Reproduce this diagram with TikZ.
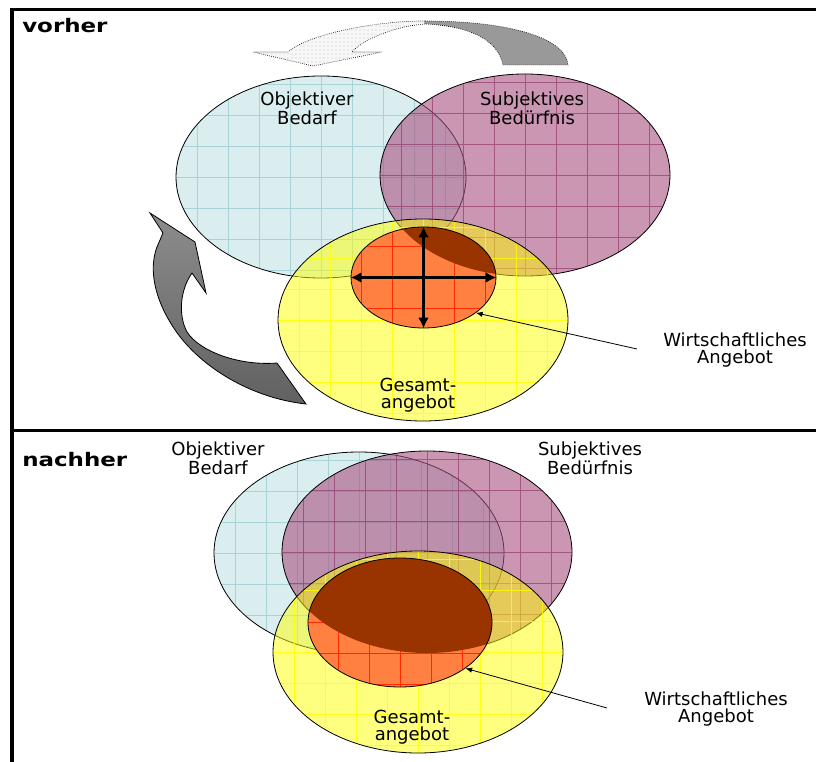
\documentclass[tikz,border=0pt]{standalone}
\usepackage{fontspec}
\setmainfont{DejaVu Sans}
\usetikzlibrary{shapes.geometric,arrows.meta,patterns}
\definecolor{bedarf}{HTML}{DAEEF0}
\definecolor{bedarfgitter}{HTML}{A8D4D8}
\definecolor{beduerfnis}{HTML}{A8507F}
\definecolor{beduerfnisgitter}{HTML}{8A2C60}
\definecolor{gesamt}{HTML}{FFFF00}
\definecolor{wirtschaft}{HTML}{FF8040}
\definecolor{wirtschaftgitter}{HTML}{FF2A00}
\definecolor{braun}{HTML}{993300}

\begin{document}
\begin{tikzpicture}
  [x=0.75pt,y=-0.75pt,
   rahmen/.style={line width=2.3pt},
   kreis/.style={ellipse,draw,line width=.6pt,inner sep=0pt,minimum width=217.5pt,minimum height=151.5pt},
   gitter/.style={path picture={\draw[#1,line width=.5pt] (path picture bounding box.south west) grid[step=23.25pt] (path picture bounding box.north east);}},
   bedarfkreis/.style={kreis,fill=bedarf,gitter=bedarfgitter},
   beduerfniskreis/.style={kreis,fill=beduerfnis,fill opacity=.6,gitter={beduerfnisgitter,draw opacity=.6}},
   gesamtkreis/.style={kreis,fill=gesamt,fill opacity=.5,gitter={gesamt,draw opacity=.8}},
   kern/.style={ellipse,draw,line width=.6pt,inner sep=0pt,fill=wirtschaft,
     path picture={\draw[wirtschaftgitter,line width=.5pt] (path picture bounding box.south west) grid[step=23.25pt] (path picture bounding box.north east);
       \fill[braun] (#1) ellipse [x radius=\rx,y radius=\ry];}},
   beschriftung/.style={align=center,inner sep=1pt,font=\fontsize{13.5}{12.75}\selectfont},
   titel/.style={anchor=west,inner sep=0pt,font=\fontsize{14}{16}\selectfont\bfseries},
   kreuz/.style={{Latex[length=8pt,width=8pt]}-{Latex[length=8pt,width=8pt]},line width=2.4pt},
   zeiger/.style={-{Latex[length=5pt,width=4pt]},line width=.6pt},
   bogenhinten/.style={densely dotted,line width=.5pt,fill=gray!6,postaction={pattern=dots,pattern color=gray!45}},
   bogenvorne/.style={densely dotted,line width=.5pt,fill=black!40},
   seitenpfeil/.style={draw,line width=.6pt,top color=black!45,bottom color=black!62}]

  \def\rx{145}
  \def\ry{101}

  \useasboundingbox (0,0) rectangle (816,762);

  \draw[rahmen] (816,9.5) -- (12,9.5) -- (12,762);
  \draw[rahmen] (12,430.5) -- (816,430.5);

  \node[titel] (vorher) at (22,26) {\scalebox{1.23}[1]{vorher}};
  \node[titel] (nachher) at (22,460) {\scalebox{1.23}[1]{nachher}};

  \draw[bogenhinten] (425,21) .. controls (370,21) and (305,36) .. (288,52) -- (253,52) -- (313,66) -- (382,52) -- (352,52) .. controls (362,40) and (395,26) .. (425,24) -- cycle;
  \draw[bogenvorne] (425,21) .. controls (510,21) and (566,38) .. (568,65) -- (503,65) .. controls (498,40) and (470,26) .. (425,24) -- cycle;

  \path[seitenpfeil] (150,213) -- (195,242) -- (206,293) -- (192,273) .. controls (180,290) and (178,315) .. (187,332) .. controls (200,352) and (240,366) .. (277,363) -- (306,404) .. controls (250,398) and (195,365) .. (170,322) .. controls (152,292) and (150,265) .. (157,247) -- (163,233) -- cycle;

  \node[bedarfkreis] (bedarf1) at (321,177) {};
  \node[beduerfniskreis] (beduerfnis1) at (525,175) {};
  \node[gesamtkreis] (gesamt1) at (423,320) {};
  \node[kern=beduerfnis1.center,minimum width=108.75pt,minimum height=75.75pt] (wirt1) at (423.5,277.5) {};

  \draw[kreuz] (wirt1.north) -- (wirt1.south);
  \draw[kreuz] (wirt1.west) -- (wirt1.east);

  \node[beschriftung] (bedarftext1) at (307,108) {Objektiver\\Bedarf};
  \node[beschriftung] (beduerfnistext1) at (532,108) {Subjektives\\Bedürfnis};
  \node[beschriftung] (gesamttext1) at (418,395) {Gesamt-\\angebot};
  \node[beschriftung] (wirttext1) at (735,350) {Wirtschaftliches\\Angebot};
  \coordinate (wirtpfeil1) at (637,349);
  \draw[zeiger] (wirtpfeil1) -- (wirt1.-34);

  \node[bedarfkreis] (bedarf2) at (359,553) {};
  \node[beduerfniskreis] (beduerfnis2) at (427,552) {};
  \node[gesamtkreis] (gesamt2) at (418,652) {};
  \node[kern=beduerfnis2.center,minimum width=138pt,minimum height=96.75pt] (wirt2) at (400,622.5) {};

  \node[beschriftung] (bedarftext2) at (218,458) {Objektiver\\Bedarf};
  \node[beschriftung] (beduerfnistext2) at (590,458) {Subjektives\\Bedürfnis};
  \node[beschriftung] (gesamttext2) at (412,727) {Gesamt-\\angebot};
  \node[beschriftung] (wirttext2) at (716,709) {Wirtschaftliches\\Angebot};
  \coordinate (wirtpfeil2) at (607,708);
  \draw[zeiger] (wirtpfeil2) -- (wirt2.-35);
\end{tikzpicture}
\end{document}
